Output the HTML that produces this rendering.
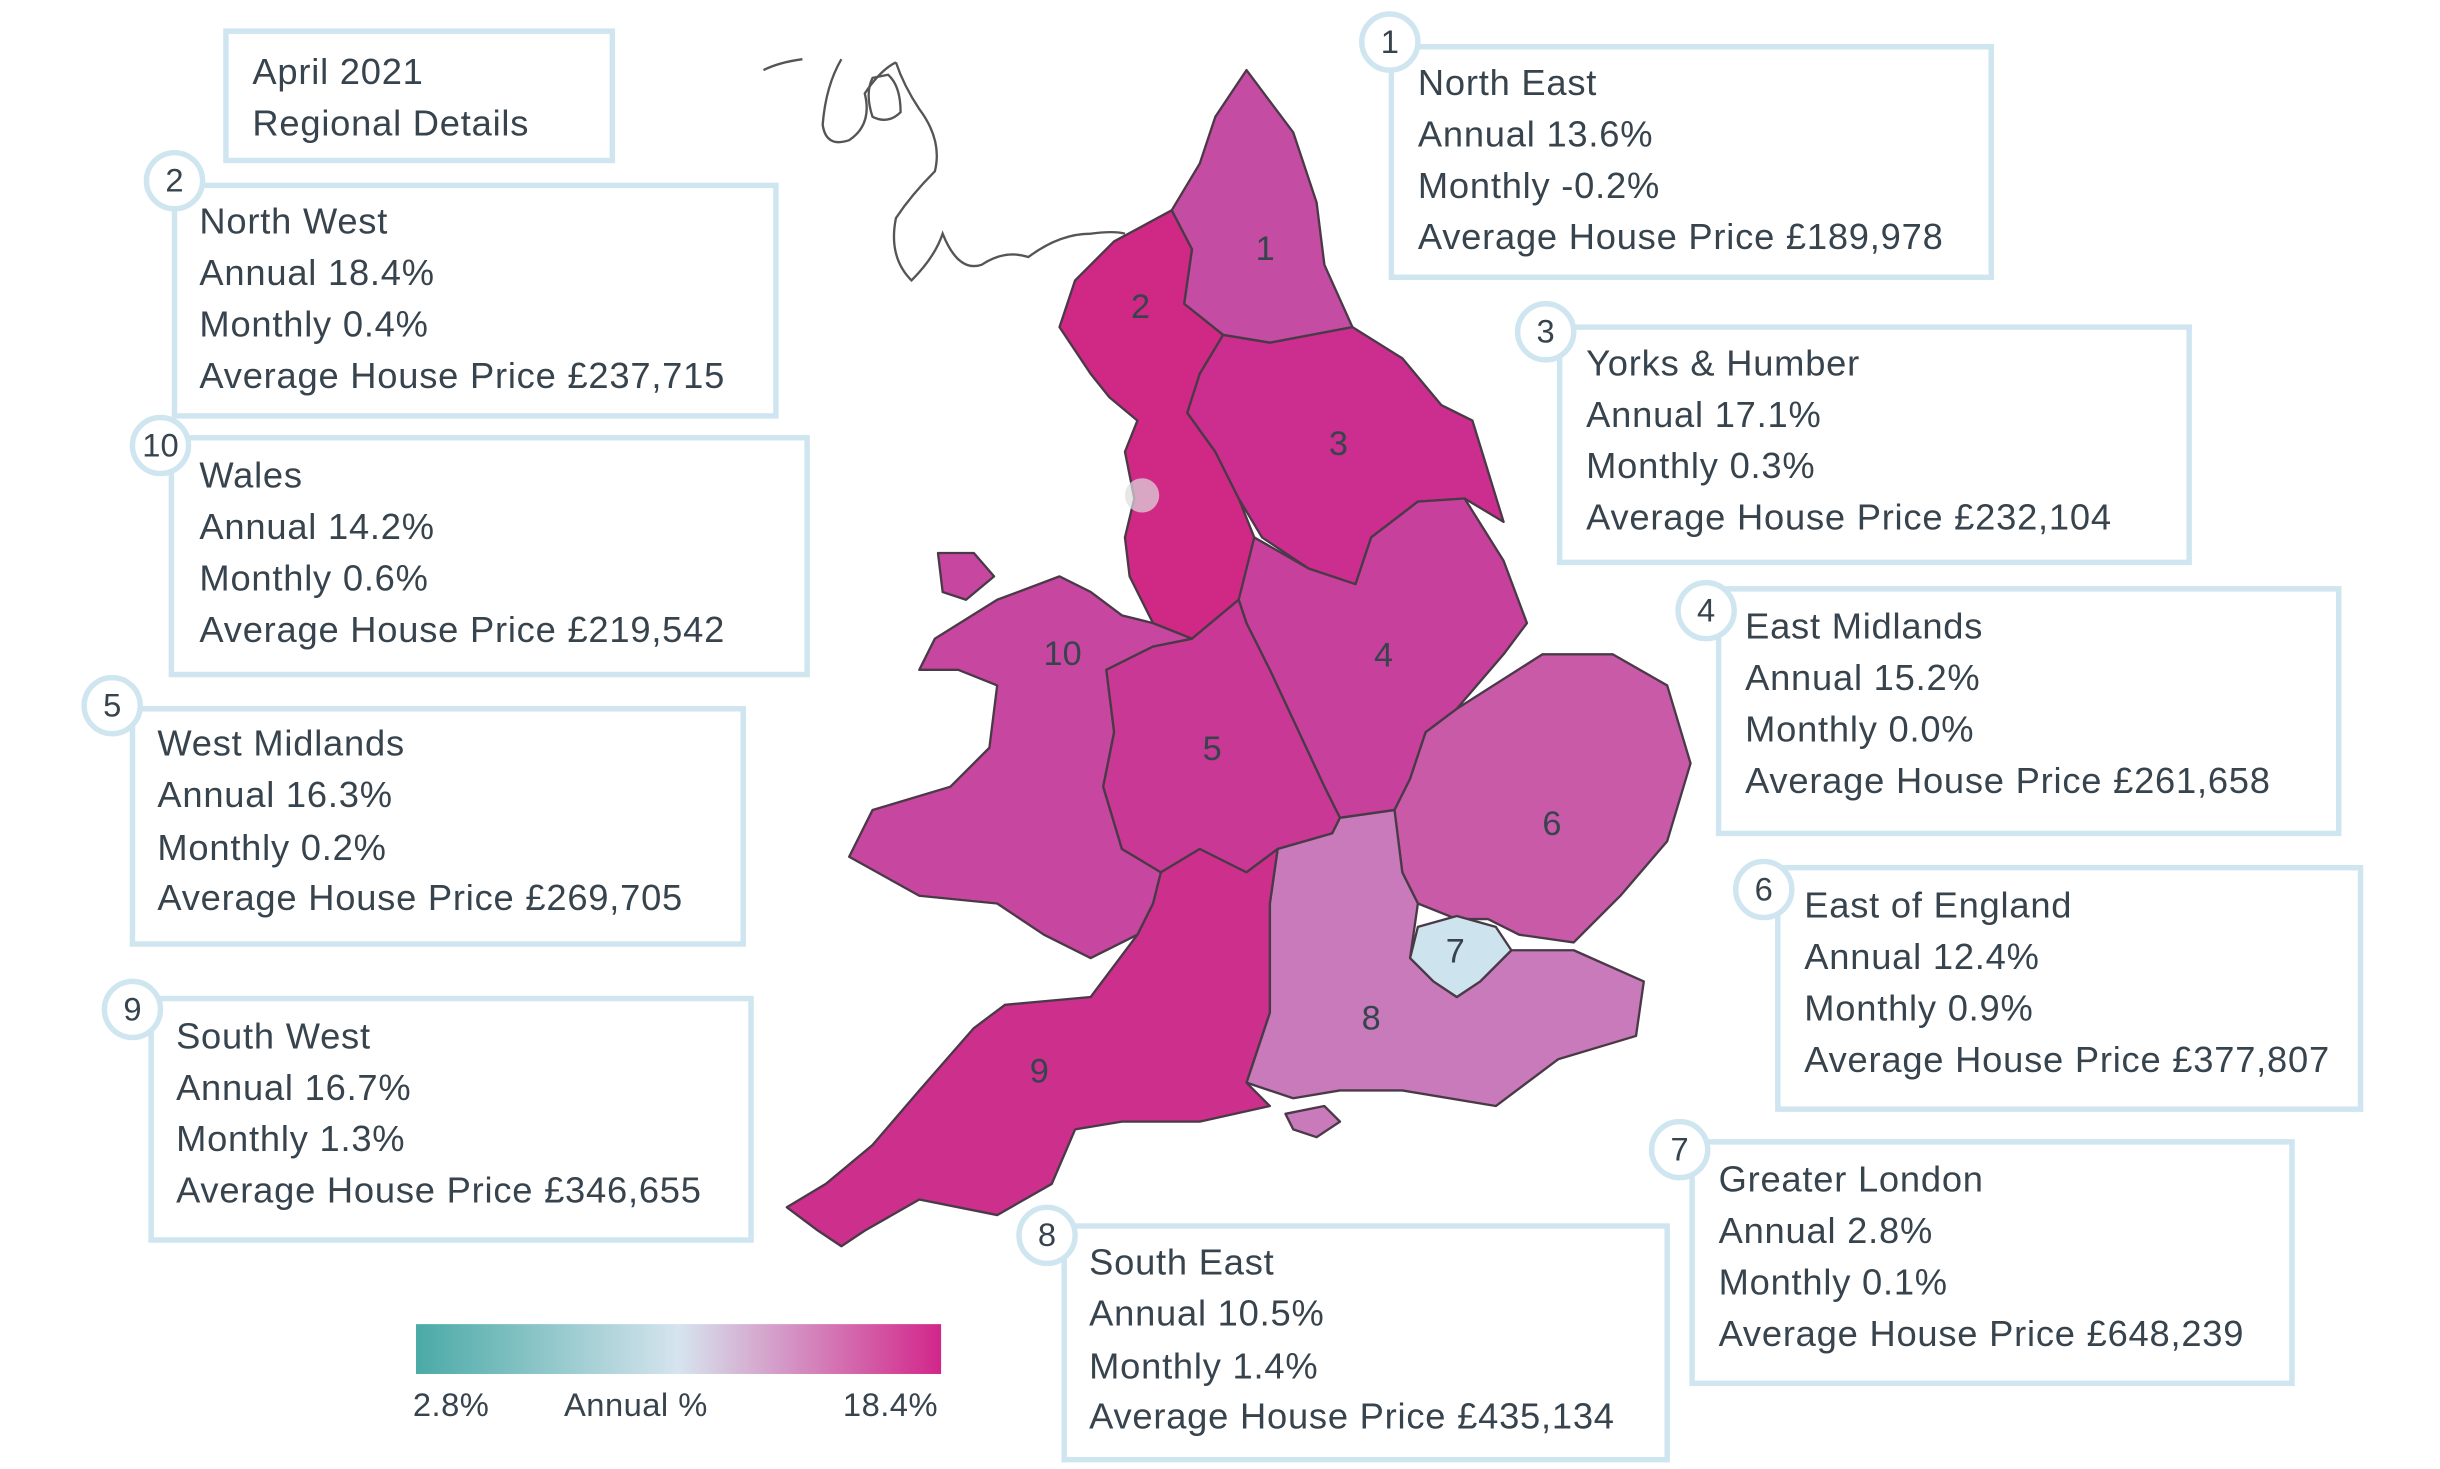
<!DOCTYPE html>
<html><head><meta charset="utf-8"><style>
html,body{margin:0;padding:0;background:#fff;}
svg{display:block;}
text{font-family:"Liberation Sans",sans-serif;fill:#37434d;}
</style></head><body>
<svg width="2440" height="1469" viewBox="0 0 1566 943" preserveAspectRatio="none" xmlns="http://www.w3.org/2000/svg">
<defs><linearGradient id="g" x1="0" x2="1"><stop offset="0" stop-color="#4aaaa6"/><stop offset="0.5" stop-color="#d6e4ee"/><stop offset="1" stop-color="#d2268a"/></linearGradient></defs>
<g fill="none" stroke="#555" stroke-width="1.5">
<path d="M490,45 Q500,40 515,38 M540,38 Q530,55 528,80 Q530,95 545,90 Q560,80 555,60 Q565,45 575,40 M575,40 Q580,55 590,70 Q605,90 600,110 Q585,125 575,140 Q570,165 585,180 Q600,165 605,150 Q615,175 630,170 Q645,160 660,165 Q680,150 700,150 Q715,148 722,150"/>
<path d="M560,50 Q555,60 560,75 Q570,80 578,72 Q578,55 570,48 Z"/>
</g>
<g stroke="#4a3a48" stroke-width="1.5" stroke-linejoin="round">
<polygon fill="#c44ca3" points="800,45 830,85 845,130 850,170 868,210 815,220 785,215 760,195 765,160 752,135 770,105 780,75"/>
<polygon fill="#d02885" points="752,135 765,160 760,195 785,215 770,240 762,265 780,290 795,320 805,345 800,380 795,385 765,410 740,400 725,370 722,345 728,320 722,290 730,270 712,255 700,240 680,210 690,180 715,155"/>
<polygon fill="#cb2e8e" points="785,215 815,220 868,210 900,230 925,260 945,270 965,335 940,320 910,322 880,345 870,375 840,365 810,345 795,320 780,290 762,265 770,240"/>
<polygon fill="#c7409c" points="795,385 805,345 840,365 870,375 880,345 910,322 940,320 965,360 980,400 965,420 935,455 915,470 905,500 895,520 860,525 850,505 815,430 800,400"/>
<polygon fill="#c93895" points="765,410 795,385 800,400 815,430 850,505 860,525 855,535 820,545 800,560 770,545 745,560 720,545 708,505 715,470 710,430 740,415"/>
<polygon fill="#c95aa8" points="915,470 935,455 990,420 1035,420 1070,440 1085,490 1070,540 1040,575 1010,605 975,600 955,590 935,590 910,580 900,560 895,520 905,500"/>
<polygon fill="#c87abb" points="820,545 855,535 860,525 895,520 900,560 910,580 905,615 920,630 935,640 950,630 970,610 1010,610 1055,630 1050,665 1000,680 960,710 900,700 860,700 830,705 800,695 815,650 815,580"/>
<polygon fill="#cde3ee" points="910,595 935,588 960,595 970,610 950,630 935,640 920,630 905,615"/>
<polygon fill="#cd2f8c" points="745,560 770,545 800,560 820,545 815,580 815,650 800,695 815,710 770,720 720,720 690,725 675,760 640,780 590,770 555,790 540,800 525,790 505,775 530,760 560,735 590,700 625,660 645,645 700,640 730,600 740,580"/>
<polygon fill="#c747a0" points="640,385 680,370 700,380 720,395 740,400 765,410 740,415 710,430 715,470 708,505 720,545 745,560 740,580 730,600 700,615 670,600 640,580 590,575 545,550 560,520 610,505 635,480 640,440 615,430 590,430 600,410"/>
<polygon fill="#c747a0" points="602,355 625,355 638,370 620,385 605,380"/>
<polygon fill="#c87abb" points="825,715 850,710 860,720 845,730 830,725"/>
</g>
<circle cx="733" cy="318" r="11" fill="#ddd" opacity="0.7"/>
<g font-size="22" text-anchor="middle" fill="#333">
<text x="812" y="167">1</text><text x="732" y="204">2</text><text x="859" y="292">3</text><text x="888" y="428">4</text><text x="778" y="488">5</text><text x="996" y="536">6</text><text x="934" y="618">7</text><text x="880" y="661">8</text><text x="667" y="695">9</text><text x="682" y="427">10</text>
</g>
<g fill="#fff" stroke="#cfe5f0" stroke-width="3.5">
<rect x="145" y="20" width="248" height="83"/>
<rect x="893" y="30" width="385" height="148"/>
<rect x="112" y="119" width="386" height="148"/>
<rect x="110" y="281" width="408" height="152"/>
<rect x="85" y="455" width="392" height="151"/>
<rect x="97" y="641" width="385" height="155"/>
<rect x="1001" y="210" width="404" height="151"/>
<rect x="1103" y="378" width="398" height="157"/>
<rect x="1141" y="557" width="374" height="155"/>
<rect x="1086" y="733" width="385" height="155"/>
<rect x="683" y="787" width="387" height="150"/>
<circle cx="892" cy="27" r="18"/><circle cx="112" cy="116" r="18"/><circle cx="103" cy="286" r="18"/><circle cx="72" cy="453" r="18"/><circle cx="85" cy="648" r="18"/><circle cx="992" cy="213" r="18"/><circle cx="1095" cy="392" r="18"/><circle cx="1132" cy="571" r="18"/><circle cx="1078" cy="738" r="18"/><circle cx="672" cy="793" r="18"/>
</g>
<g font-size="21" text-anchor="middle">
<text x="892" y="34">1</text><text x="112" y="123">2</text><text x="103" y="293">10</text><text x="72" y="460">5</text><text x="85" y="655">9</text><text x="992" y="220">3</text><text x="1095" y="399">4</text><text x="1132" y="578">6</text><text x="1078" y="745">7</text><text x="672" y="800">8</text>
</g>
<g font-size="23.3" letter-spacing="0.5">
<text x="162" y="54">April 2021</text><text x="162" y="87">Regional Details</text>
<text x="910" y="61">North East</text><text x="910" y="94">Annual 13.6%</text><text x="910" y="127">Monthly -0.2%</text><text x="910" y="160">Average House Price £189,978</text>
<text x="128" y="150">North West</text><text x="128" y="183">Annual 18.4%</text><text x="128" y="216">Monthly 0.4%</text><text x="128" y="249">Average House Price £237,715</text>
<text x="128" y="313">Wales</text><text x="128" y="346">Annual 14.2%</text><text x="128" y="379">Monthly 0.6%</text><text x="128" y="412">Average House Price £219,542</text>
<text x="101" y="485">West Midlands</text><text x="101" y="518">Annual 16.3%</text><text x="101" y="552">Monthly 0.2%</text><text x="101" y="584">Average House Price £269,705</text>
<text x="113" y="673">South West</text><text x="113" y="706">Annual 16.7%</text><text x="113" y="739">Monthly 1.3%</text><text x="113" y="772">Average House Price £346,655</text>
<text x="1018" y="241">Yorks &amp; Humber</text><text x="1018" y="274">Annual 17.1%</text><text x="1018" y="307">Monthly 0.3%</text><text x="1018" y="340">Average House Price £232,104</text>
<text x="1120" y="410">East Midlands</text><text x="1120" y="443">Annual 15.2%</text><text x="1120" y="476">Monthly 0.0%</text><text x="1120" y="509">Average House Price £261,658</text>
<text x="1158" y="589">East of England</text><text x="1158" y="622">Annual 12.4%</text><text x="1158" y="655">Monthly 0.9%</text><text x="1158" y="688">Average House Price £377,807</text>
<text x="1103" y="765">Greater London</text><text x="1103" y="798">Annual 2.8%</text><text x="1103" y="831">Monthly 0.1%</text><text x="1103" y="864">Average House Price £648,239</text>
<text x="699" y="818">South East</text><text x="699" y="851">Annual 10.5%</text><text x="699" y="885">Monthly 1.4%</text><text x="699" y="917">Average House Price £435,134</text>
</g>
<rect x="267" y="850" width="337" height="32" fill="url(#g)"/>
<g font-size="21" letter-spacing="0.3"><text x="265" y="909">2.8%</text><text x="362" y="909">Annual %</text><text x="541" y="909">18.4%</text></g>
</svg>
</body></html>
